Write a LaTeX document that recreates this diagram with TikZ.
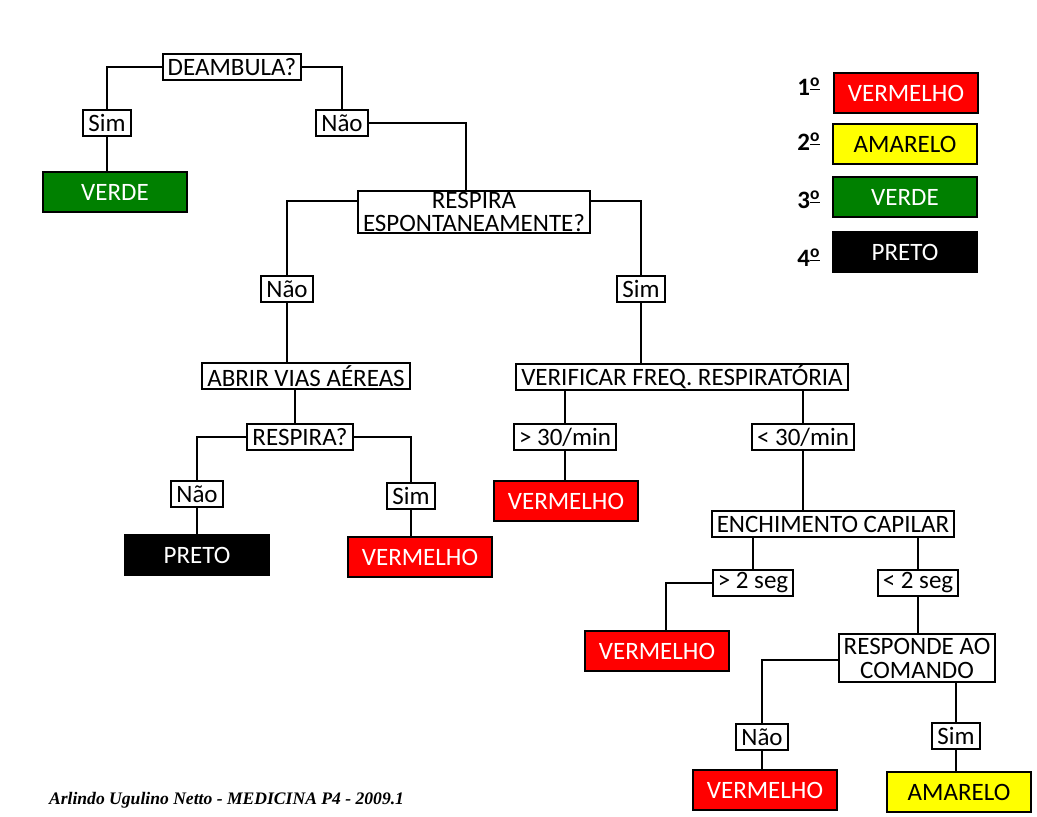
\documentclass[tikz,border=0pt]{standalone}
\usepackage{fontspec}
\setmainfont{Carlito}
\newfontfamily\rodape{Liberation Serif}
\usepackage{tikz}
\definecolor{vermelho}{rgb}{1, 0, 0}
\definecolor{amarelo}{rgb}{1, 1, 0}
\definecolor{verde}{rgb}{0, 0.5, 0}

\begin{document}
\begin{tikzpicture}[x=0.5pt, y=-0.5pt,
  every node/.style={font=\fontsize{12.5}{12}\selectfont},
  pergunta/.style={draw, line width=1pt, fill=white, inner xsep=2.5pt, inner ysep=0pt, minimum height=13pt, align=center},
  cor/.style={draw, line width=1pt, minimum width=72pt, minimum height=20pt},
  liga/.style={line width=1.2pt}]
\useasboundingbox (0,0) rectangle (1037,817);

% perguntas
\node[pergunta, inner ysep=0.6pt, font=\fontsize{12.5}{11.2}\selectfont] (resp) at (474,212) {RESPIRA\\ESPONTANEAMENTE?};
\node[pergunta] (deamb) at (232,67) {DEAMBULA?};
\node[pergunta] (sim1) at (107,123) {Sim};
\node[pergunta] (nao1) at (342,123) {Não};
\node[pergunta] (nao2) at (287,289) {Não};
\node[pergunta] (sim2) at (641,289) {Sim};
\node[pergunta] (abrir) at (306,376) {ABRIR VIAS AÉREAS};
\node[pergunta] (resp2) at (300,437) {RESPIRA?};
\node[pergunta] (nao3) at (197,494) {Não};
\node[pergunta] (sim3) at (411,496) {Sim};
\node[pergunta] (verif) at (682,377) {VERIFICAR FREQ. RESPIRATÓRIA};
\node[pergunta] (gt30) at (565,437) {> 30/min};
\node[pergunta] (lt30) at (803,437) {< 30/min};
\node[pergunta] (ench) at (833,524) {ENCHIMENTO CAPILAR};
\node[pergunta] (gt2) at (753,583) {> 2 seg};
\node[pergunta] (lt2) at (918,583) {< 2 seg};
\node[pergunta, inner ysep=2pt] (resp3) at (917,658) {RESPONDE AO\\COMANDO};
\node[pergunta] (nao4) at (762,737) {Não};
\node[pergunta] (sim4) at (956,736) {Sim};

% classificacao
\node[cor, fill=verde, text=white] (verde) at (115,192) {VERDE};
\node[cor, fill=black, text=white] (preto) at (197,555) {PRETO};
\node[cor, fill=vermelho, text=white] (verm1) at (420,557) {VERMELHO};
\node[cor, fill=vermelho, text=white] (verm2) at (566,501) {VERMELHO};
\node[cor, fill=vermelho, text=white] (verm3) at (657,651) {VERMELHO};
\node[cor, fill=vermelho, text=white] (verm4) at (765,790) {VERMELHO};
\node[cor, fill=amarelo] (amar) at (959,792) {AMARELO};

% ligacoes
\draw[liga] (deamb.west) -| (sim1.north);
\draw[liga] (sim1.south) -- (sim1.south |- verde.north);
\draw[liga] (deamb.east) -| (nao1.north);
\draw[liga] (nao1.east) -| ([xshift=-4pt]resp.north);
\draw[liga] ([yshift=5.5pt]resp.west) -| (nao2.north);
\draw[liga] ([yshift=5.5pt]resp.east) -| (sim2.north);
\draw[liga] (nao2.south) -- (nao2.south |- abrir.north);
\draw[liga] (sim2.south) -- (sim2.south |- verif.north);
\draw[liga] ([xshift=-2.5pt]resp2.north) -- ([xshift=-2.5pt]resp2.north |- abrir.south);
\draw[liga] (resp2.west) -| (nao3.north);
\draw[liga] (resp2.east) -| (sim3.north);
\draw[liga] (nao3.south) -- (nao3.south |- preto.north);
\draw[liga] (sim3.south) -- (sim3.south |- verm1.north);
\draw[liga] (gt30.north) -- (gt30.north |- verif.south);
\draw[liga] (lt30.north) -- (lt30.north |- verif.south);
\draw[liga] (gt30.south) -- (gt30.south |- verm2.north);
\draw[liga] (lt30.south) -- (lt30.south |- ench.north);
\draw[liga] (gt2.north) -- (gt2.north |- ench.south);
\draw[liga] (lt2.north) -- (lt2.north |- ench.south);
\draw[liga] (gt2.west) -| ([xshift=4.5pt]verm3.north);
\draw[liga] (lt2.south) -- (lt2.south |- resp3.north);
\draw[liga] ([yshift=-1pt]resp3.west) -| (nao4.north);
\draw[liga] (sim4.north) -- (sim4.north |- resp3.south);
\draw[liga] (nao4.south) -- (nao4.south |- verm4.north);
\draw[liga] (sim4.south) -- (sim4.south |- amar.north);

% legenda
\node[cor, fill=vermelho, text=white] (leg1) at (906,93) {VERMELHO};
\node[cor, fill=amarelo] (leg2) at (905,144) {AMARELO};
\node[cor, fill=verde, text=white] (leg3) at (905,197) {VERDE};
\node[cor, fill=black, text=white] (leg4) at (905,252) {PRETO};
\node[font=\bfseries\fontsize{12.5}{12}\selectfont] (ord1) at (809,87) {1\textsuperscript{\underline{o}}};
\node[font=\bfseries\fontsize{12.5}{12}\selectfont] (ord2) at (809,142) {2\textsuperscript{\underline{o}}};
\node[font=\bfseries\fontsize{12.5}{12}\selectfont] (ord3) at (809,200) {3\textsuperscript{\underline{o}}};
\node[font=\bfseries\fontsize{12.5}{12}\selectfont] (ord4) at (809,258) {4\textsuperscript{\underline{o}}};

% autor
\node[anchor=west, font=\rodape\bfseries\itshape\fontsize{8.8}{10}\selectfont] (autor) at (42,800) {Arlindo Ugulino Netto - MEDICINA P4 - 2009.1};
\end{tikzpicture}
\end{document}
